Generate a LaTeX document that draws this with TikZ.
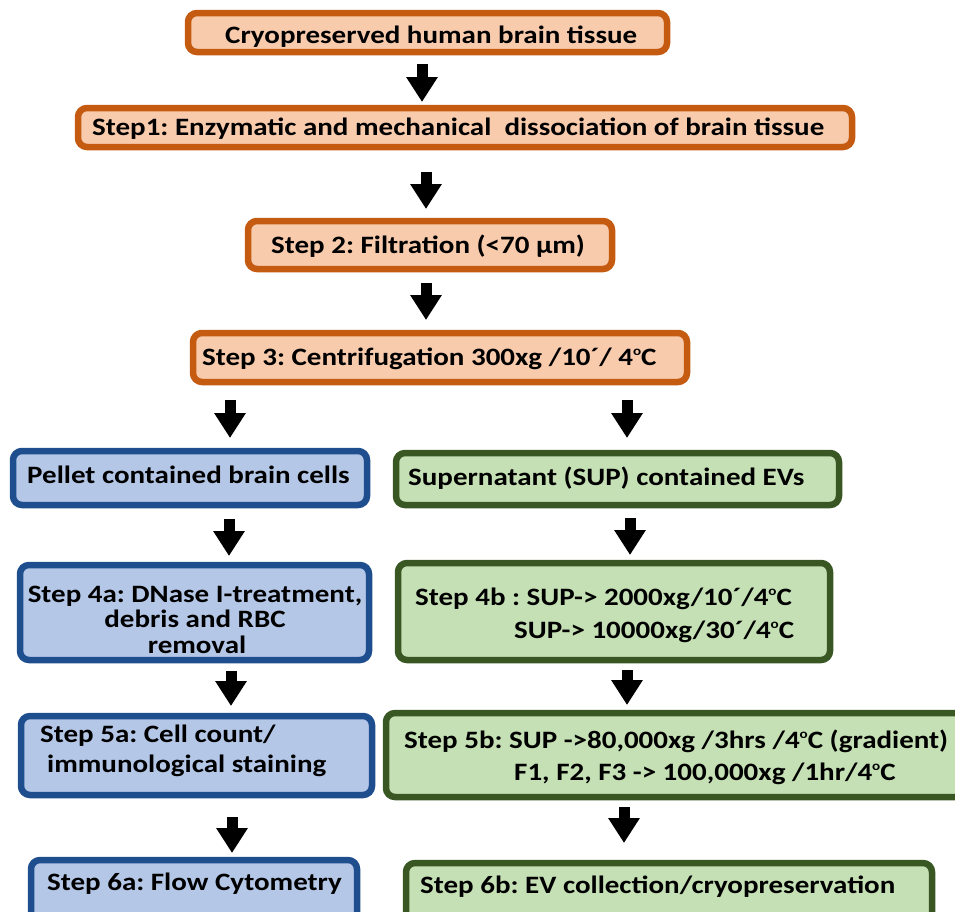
\documentclass[tikz,border=0pt]{standalone}
\usepackage{fontspec}
\setmainfont{Carlito}[FakeStretch=1.16]
\usetikzlibrary{arrows.meta,fit}
\definecolor{obord}{HTML}{C55A11}
\definecolor{ofill}{HTML}{F8CBAD}
\definecolor{bbord}{HTML}{1F4E8F}
\definecolor{bfill}{HTML}{B4C7E7}
\definecolor{gbord}{HTML}{385723}
\definecolor{gfill}{HTML}{C5E0B4}
\newcommand{\degc}{\raisebox{0.4em}{\fontsize{13}{13}\selectfont o}C}
\frenchspacing
\begin{document}
\frenchspacing
\begin{tikzpicture}[x=1pt,y=-1pt,
  box/.style={rounded corners=9pt, line width=6.5pt, inner sep=0pt},
  obox/.style={box, draw=obord, fill=ofill},
  bbox/.style={box, draw=bbord, fill=bfill},
  gbox/.style={box, draw=gbord, fill=gfill},
  txt/.style={anchor=base west, inner sep=0pt, font=\fontsize{25}{30}\selectfont\bfseries\frenchspacing},
  txtc/.style={txt, anchor=base},
  barrow/.style={line width=11pt, -{Triangle[width=30pt,length=25pt]}}
]
\useasboundingbox (0,0) rectangle (955,911);
\clip (0,0) rectangle (955,911);
\newcommand{\bx}[6]{\node[#1, fit={(#3+3,#4+3) (#5-3,#6-3)}] (#2) {};}
% boxes
\bx{obox}{b0}{185}{10}{670}{55}
\bx{obox}{b1}{75}{105}{855}{150}
\bx{obox}{b2}{245}{218}{615}{272}
\bx{obox}{b3}{190}{330}{690}{385}
\bx{bbox}{pel}{10}{448}{370}{508}
\bx{gbox}{sup}{393}{450}{842}{508}
\bx{bbox}{s4a}{17}{562}{372}{663}
\bx{gbox}{s4b}{395}{560}{833}{663}
\bx{bbox}{s5a}{18}{713}{375}{798}
\bx{gbox}{s5b}{383}{710}{970}{800}
\bx{bbox}{s6a}{28}{857}{360}{930}
\bx{gbox}{s6b}{403}{860}{935}{930}
% texts
\node[txt] (t0) at (225,43) {Cryopreserved human brain tissue};
\node[txt] (t1) at (92,135) {Step1: Enzymatic and mechanical~ dissociation of brain tissue};
\node[txt] (t2) at (271,253) {Step 2: Filtration (<70 µm)};
\node[txt] (t3) at (202,365) {Step 3: Centrifugation 300xg /10´/ 4\degc};
\node[txt] (tp) at (27,483) {Pellet contained brain cells};
\node[txt] (ts) at (408,485) {Supernatant (SUP) contained EVs};
\node[txtc] (t4a1) at (195,602) {Step 4a: DNase I-treatment,};
\node[txtc] (t4a2) at (195,627) {debris and RBC};
\node[txtc] (t4a3) at (197,653) {removal};
\node[txt] (t4b1) at (415,605) {Step 4b : SUP-> 2000xg/10´/4\degc};
\node[txt] (t4b2) at (514,638) {SUP-> 10000xg/30´/4\degc};
\node[txt] (t5a1) at (40,742) {Step 5a: Cell count/};
\node[txt] (t5a2) at (47,772) {immunological staining};
\node[txt] (t5b1) at (404,748) {Step 5b: SUP ->80,000xg /3hrs /4\degc\ (gradient)};
\node[txt] (t5b2) at (514,780) {F1, F2, F3 -> 100,000xg /1hr/4\degc};
\node[txt] (t6a) at (47,890) {Step 6a: Flow Cytometry};
\node[txt] (t6b) at (420,893) {Step 6b: EV collection/cryopreservation};
% arrows
\coordinate (a1s) at (422,64);  \coordinate (a1e) at (422,102);
\coordinate (a2s) at (426,172); \coordinate (a2e) at (426,209);
\coordinate (a3s) at (426,283); \coordinate (a3e) at (426,320);
\coordinate (a4ls) at (230,400); \coordinate (a4le) at (230,438);
\coordinate (a4rs) at (627,400); \coordinate (a4re) at (627,438);
\coordinate (a5ls) at (229,519); \coordinate (a5le) at (229,556);
\coordinate (a5rs) at (630,518); \coordinate (a5re) at (630,555);
\coordinate (a6ls) at (231,671); \coordinate (a6le) at (231,706);
\coordinate (a6rs) at (627,670); \coordinate (a6re) at (627,705);
\coordinate (a7ls) at (232,817); \coordinate (a7le) at (232,853);
\coordinate (a7rs) at (624,807); \coordinate (a7re) at (624,843);
\foreach \a in {a1,a2,a3,a4l,a4r,a5l,a5r,a6l,a6r,a7l,a7r}
  \draw[barrow] (\a s) -- (\a e);
\end{tikzpicture}
\end{document}
